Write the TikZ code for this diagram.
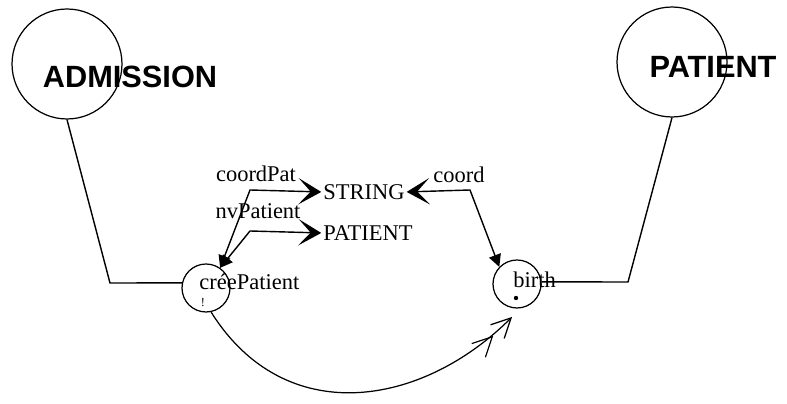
\documentclass[tikz,border=0pt]{standalone}
\usepackage{fontspec}
\setmainfont{Liberation Serif}
\newfontfamily\headfont{Liberation Sans}
\usetikzlibrary{arrows.meta}

\begin{document}
\begin{tikzpicture}[
    x=0.02cm, y=-0.02cm,
    entity/.style={circle, draw, line width=0.7pt, minimum size=2.2cm, inner sep=0pt},
    bigname/.style={font=\headfont\bfseries\fontsize{17.5}{20}\selectfont, inner sep=0pt},
    op/.style={circle, draw, line width=0.7pt, minimum size=0.96cm, inner sep=0pt},
    lbl/.style={font=\fontsize{12.8}{14}\selectfont, inner sep=0pt},
    link/.style={line width=0.8pt},
    arrow/.style={line width=0.8pt, shorten >=1pt, {Triangle[length=7pt,width=7pt]}-{Stealth[length=13pt,width=15pt,inset=7pt]}},
    flow/.style={line width=0.7pt, -{Straight Barb[length=11pt,width=11pt,sep=3pt] Straight Barb[length=11pt,width=11pt]}},
]
    \useasboundingbox (0,0) rectangle (787,404);

    % Entities
    \node[entity] (adm) at (67,64) {};
    \node[bigname] (admname) at (130,77) {ADMISSION};
    \node[entity] (pat) at (672,62) {};
    \node[bigname] (patname) at (713,67) {PATIENT};

    % Operations
    \node[op] (cree) at (206,288) {};
    \node[lbl, anchor=base west] (creename) at (199,290) {créePatient};
    \node[font=\fontsize{7}{8}\selectfont, inner sep=0pt] (bang) at (203,303) {!};
    \node[op] (birth) at (517,284) {};
    \node[lbl, anchor=base west] (birthname) at (513,288) {birth};
    \node[circle, fill, inner sep=0pt, minimum size=2.5pt] (birthdot) at (516,298) {};

    % Types
    \node[lbl, anchor=west] (str) at (323,192) {STRING};
    \node[lbl, anchor=west] (pty) at (323,233) {PATIENT};

    % Labels
    \node[lbl] (cpl) at (256,174) {coordPat};
    \node[lbl] (nvl) at (258,211) {nvPatient};
    \node[lbl] (col) at (459,175) {coord};

    \coordinate (b1) at (250,190);
    \coordinate (b2) at (250,231);
    \coordinate (b3) at (470,190);
    \coordinate (b4) at (110,283);
    \coordinate (b5) at (628,282);
    \coordinate (fend) at (512,317);

    \draw[link] (adm.south) -- (b4) -- (cree.168);
    \draw[link] (pat.south) -- (b5) -- (birth.5);

    \draw[arrow] (cree.55) -- (b1) -- (str.west);
    \draw[arrow] (cree.55) -- (b2) -- (pty.west);
    \draw[arrow] (birth.136) -- (b3) -- (str.east);

    \draw[flow] (cree.-78) .. controls (285,430) and (422,407) .. (fend);
\end{tikzpicture}
\end{document}
